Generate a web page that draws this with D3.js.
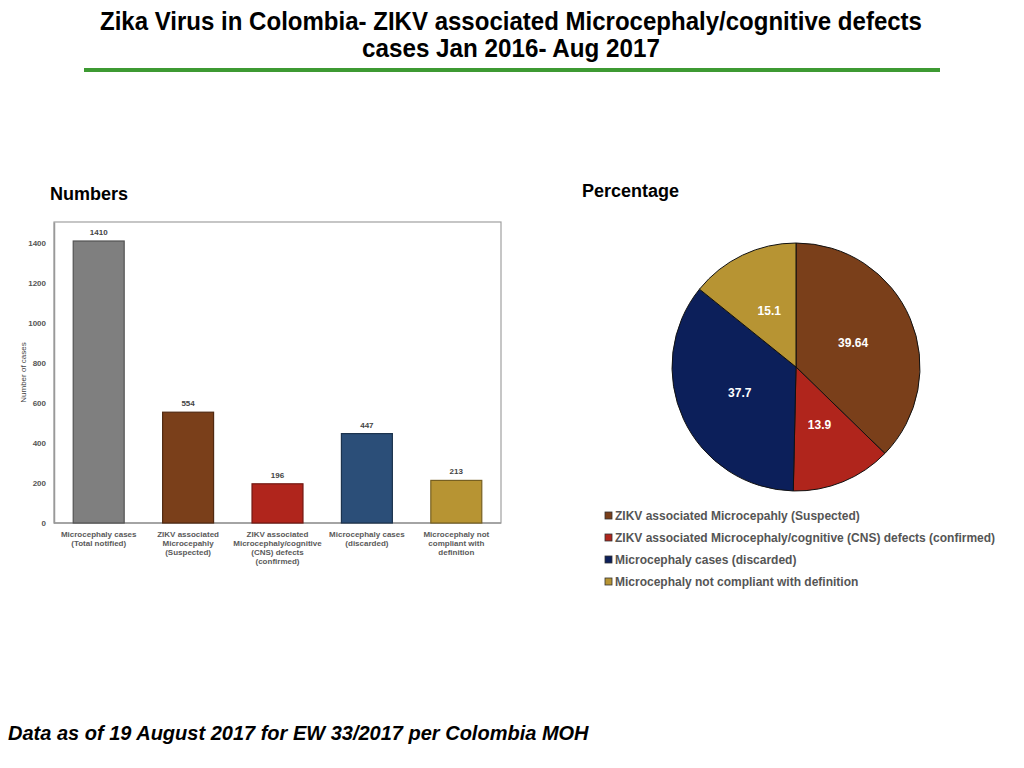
<!DOCTYPE html>
<html>
<head>
<meta charset="utf-8">
<script src="https://cdn.jsdelivr.net/npm/d3@7"></script>
<style>
  body { margin: 0; background: #fff; }
  svg { display: block; font-family: "Liberation Sans", Arial, sans-serif; }
</style>
</head>
<body>
<div id="chart"></div>
<script>
"use strict"
var width = 1024,
	height = 768;

// bar chart data
var barCategories = [
	["Microcephaly cases", "(Total notified)"],
	["ZIKV associated", "Microcepahly", "(Suspected)"],
	["ZIKV associated", "Microcephaly/cognitive", "(CNS) defects", "(confirmed)"],
	["Microcephaly cases", "(discarded)"],
	["Microcephaly not", "compliant with", "definition"]
];
var barValues = [1410, 554, 196, 447, 213];
var barColors = ["#7f7f7f", "#7a3f1a", "#b0251c", "#2b4e78", "#b79433"];
var barTicks = [0, 200, 400, 600, 800, 1000, 1200, 1400];

// pie data
var pieLabels = [
	"ZIKV associated Microcepahly (Suspected)",
	"ZIKV associated Microcephaly/cognitive (CNS) defects (confirmed)",
	"Microcephaly cases (discarded)",
	"Microcephaly not compliant with definition"
];
var pieValues = [39.64, 13.9, 37.7, 15.1];
var pieText = ["39.64", "13.9", "37.7", "15.1"];
var pieColors = ["#7a3f1a", "#b0251c", "#0c1f5a", "#b79433"];

var svg = d3.select("#chart").append("svg")
	.attr("width", width)
	.attr("height", height);

// Title (condensed face squeezed to the original width)
var title = svg.append("g")
	.style("font-weight", "bold")
	.style("font-size", "26px")
	.style("fill", "#000");
title.append("text").attr("x", 100).attr("y", 30)
	.attr("textLength", 822).attr("lengthAdjust", "spacingAndGlyphs")
	.text("Zika Virus in Colombia- ZIKV associated Microcephaly/cognitive defects");
title.append("text").attr("x", 362).attr("y", 57)
	.attr("textLength", 298).attr("lengthAdjust", "spacingAndGlyphs")
	.text("cases Jan 2016- Aug 2017");

svg.append("rect")
	.attr("x", 84).attr("y", 68)
	.attr("width", 856).attr("height", 4)
	.style("fill", "#3d9a32");

// Section headings
svg.append("text").attr("x", 50).attr("y", 200)
	.style("font-weight", "bold").style("font-size", "18px")
	.text("Numbers");
svg.append("text").attr("x", 582).attr("y", 197)
	.style("font-weight", "bold").style("font-size", "18px")
	.text("Percentage");

// Bar chart
var plot = {left: 54, right: 501, top: 222, bottom: 523};

var x = d3.scaleBand()
	.domain(d3.range(barValues.length))
	.range([plot.left, plot.right])
	.paddingInner(0.43)
	.paddingOuter(0.215);

var y = d3.scaleLinear()
	.domain([0, 1505])
	.range([plot.bottom, plot.top]);

svg.append("rect")
	.attr("x", plot.left).attr("y", plot.top)
	.attr("width", plot.right - plot.left)
	.attr("height", plot.bottom - plot.top)
	.style("fill", "none")
	.style("stroke", "#a0a0a0")
	.style("stroke-width", 1.2);

var yAxis = svg.append("g")
	.attr("transform", "translate(" + plot.left + ",0)")
	.call(d3.axisLeft(y).tickValues(barTicks).tickFormat(d3.format("d")).tickSize(0).tickPadding(8));
yAxis.select(".domain").style("stroke", "#999").style("stroke-width", 1.5);
yAxis.selectAll("text")
	.style("font-family", "'Liberation Sans', Arial, sans-serif")
	.style("font-size", "8px")
	.style("font-weight", "bold")
	.style("fill", "#555");

svg.append("line")
	.attr("x1", plot.left).attr("x2", plot.right)
	.attr("y1", plot.bottom).attr("y2", plot.bottom)
	.style("stroke", "#999").style("stroke-width", 1.5);

svg.append("text")
	.attr("transform", "translate(26," + ((plot.top + plot.bottom) / 2) + ") rotate(-90)")
	.attr("text-anchor", "middle")
	.style("font-size", "8px")
	.style("fill", "#444")
	.text("Number of cases");

svg.selectAll(".bar")
	.data(barValues)
	.enter().append("rect")
	.attr("class", "bar")
	.attr("x", function(d, i) { return x(i); })
	.attr("y", function(d) { return y(d); })
	.attr("width", x.bandwidth())
	.attr("height", function(d) { return y(0) - y(d); })
	.style("fill", function(d, i) { return barColors[i]; })
	.style("stroke", function(d, i) { return d3.color(barColors[i]).darker(1.2); })
	.style("stroke-width", 1.2);

svg.selectAll(".barval")
	.data(barValues)
	.enter().append("text")
	.attr("class", "barval")
	.attr("x", function(d, i) { return x(i) + x.bandwidth() / 2; })
	.attr("y", function(d) { return y(d) - 6; })
	.attr("text-anchor", "middle")
	.style("font-size", "8px")
	.style("font-weight", "bold")
	.style("fill", "#444")
	.text(function(d) { return d; });

var catLabels = svg.selectAll(".cat")
	.data(barCategories)
	.enter().append("text")
	.attr("class", "cat")
	.attr("text-anchor", "middle")
	.style("font-size", "8px")
	.style("font-weight", "bold")
	.style("fill", "#5a5a5a");
catLabels.selectAll("tspan")
	.data(function(d, i) { return d.map(function(t) { return {t: t, i: i}; }); })
	.enter().append("tspan")
	.attr("x", function(d) { return x(d.i) + x.bandwidth() / 2; })
	.attr("y", function(d, j) { return 537 + j * 9; })
	.text(function(d) { return d.t; });

// Pie chart
var cx = 796, cy = 367, r = 124;
var pie = d3.pie().sort(null).value(function(d) { return d; });
var arc = d3.arc().innerRadius(0).outerRadius(r);
var labelArc = d3.arc().innerRadius(r * 0.5).outerRadius(r * 0.5);

var pg = svg.append("g").attr("transform", "translate(" + cx + "," + cy + ")");
var arcs = pie(pieValues);
pg.selectAll("path")
	.data(arcs)
	.enter().append("path")
	.attr("d", arc)
	.style("fill", function(d, i) { return pieColors[i]; })
	.style("stroke", "#111")
	.style("stroke-width", 1);

pg.selectAll(".plab")
	.data(arcs)
	.enter().append("text")
	.attr("class", "plab")
	.attr("transform", function(d) { return "translate(" + labelArc.centroid(d) + ")"; })
	.attr("text-anchor", "middle")
	.attr("dy", "0.35em")
	.style("font-size", "12px")
	.style("font-weight", "bold")
	.style("fill", "#fff")
	.text(function(d, i) { return pieText[i]; });

// Legend
var lg = svg.selectAll(".leg")
	.data(pieLabels)
	.enter().append("g")
	.attr("class", "leg")
	.attr("transform", function(d, i) { return "translate(605," + (516 + i * 22) + ")"; });
lg.append("rect")
	.attr("x", 0).attr("y", -4)
	.attr("width", 7).attr("height", 7)
	.style("fill", function(d, i) { return pieColors[i]; })
	.style("stroke", "#333")
	.style("stroke-width", 0.8);
lg.append("text")
	.attr("x", 10).attr("y", 4)
	.style("font-size", "12px")
	.style("font-weight", "bold")
	.style("fill", "#555")
	.text(function(d) { return d; });

// Footer
svg.append("text").attr("x", 8).attr("y", 740)
	.style("font-weight", "bold")
	.style("font-style", "italic")
	.style("font-size", "20px")
	.text("Data as of 19 August 2017 for EW 33/2017 per Colombia MOH");
</script>
</body>
</html>
